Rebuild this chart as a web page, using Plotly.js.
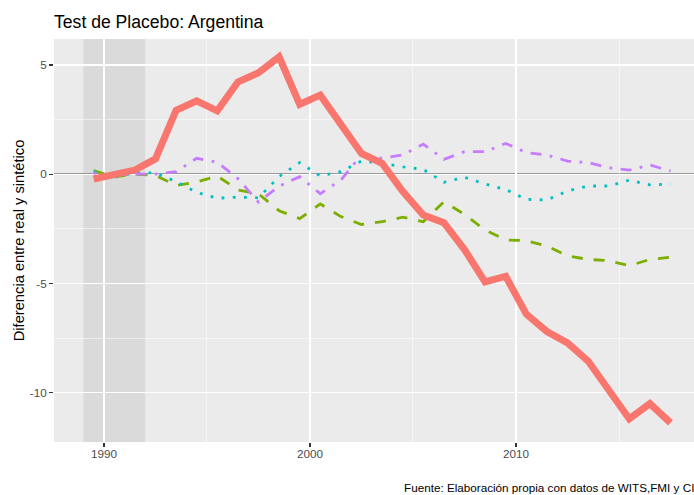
<!DOCTYPE html>
<html>
<head>
<meta charset="utf-8">
<script src="https://cdn.plot.ly/plotly-3.0.1.min.js"></script>
<style>html,body{margin:0;padding:0;background:#fff;}#chart{width:694px;height:495px;}</style>
</head>
<body>
<div id="chart"></div>
<script>
// Years (points sit mid-year on the axis)
const years = [1989.5, 1990.5, 1991.5, 1992.5, 1993.5, 1994.5, 1995.5, 1996.5, 1997.5, 1998.5,
               1999.5, 2000.5, 2001.5, 2002.5, 2003.5, 2004.5, 2005.5, 2006.5, 2007.5, 2008.5,
               2009.5, 2010.5, 2011.5, 2012.5, 2013.5, 2014.5, 2015.5, 2016.5, 2017.5];

const argentina = [-0.22, -0.05, 0.19, 0.70, 2.92, 3.36, 2.90, 4.22, 4.64, 5.37,
                   3.20, 3.62, 2.33, 0.95, 0.50, -0.78, -1.87, -2.22, -3.45, -4.93,
                   -4.67, -6.40, -7.20, -7.72, -8.55, -9.88, -11.20, -10.50, -11.38];

const placeboGreen = [0.17, -0.12, 0.00, -0.05, -0.52, -0.36, -0.08, -0.72, -0.90, -1.67,
                      -2.03, -1.36, -1.94, -2.30, -2.17, -1.97, -2.17, -1.26, -1.84, -2.55,
                      -3.01, -3.04, -3.29, -3.74, -3.90, -3.96, -4.19, -3.90, -3.80];

const placeboCyan = [0.12, -0.14, 0.06, 0.06, -0.34, -0.83, -1.10, -1.05, -1.08, -0.11,
                     0.53, -0.08, 0.12, 0.60, 0.50, 0.34, 0.22, -0.37, -0.14, -0.45,
                     -0.70, -1.15, -1.18, -0.77, -0.54, -0.54, -0.27, -0.49, -0.45];

const placeboPurple = [0.05, -0.03, 0.00, 0.00, 0.12, 0.73, 0.55, -0.20, -1.28, -0.55,
                       -0.11, -0.89, -0.27, 0.88, 0.73, 0.88, 1.38, 0.68, 1.03, 1.03,
                       1.41, 0.99, 0.88, 0.60, 0.53, 0.30, 0.19, 0.42, 0.15];

const shadeStart = 1989;
const shadeEnd = 1992;

const xTicks = [1990, 2000, 2010];
const xTickText = ["1990", "2000", "2010"];
const yTicks = [-10, -5, 0, 5];
const yTickText = ["-10", "-5", "0", "5"];

const titleText = "Test de Placebo: Argentina";
const yTitleText = "Diferencia entre real y sintético";
const captionText = "Fuente: Elaboración propia con datos de WITS,FMI y CI";

const FONT = "Liberation Sans, Arial, sans-serif";

const traces = [
  {x: years, y: placeboGreen, name: "Placebo 1", mode: "lines",
   line: {color: "#7CAE00", width: 2.8, dash: "11px,11px"}},
  {x: years, y: placeboCyan, name: "Placebo 2", mode: "lines",
   line: {color: "#00BFC4", width: 2.8, dash: "2.8px,8.4px"}},
  {x: years, y: placeboPurple, name: "Placebo 3", mode: "lines",
   line: {color: "#C77CFF", width: 2.8, dash: "2.8px,8.4px,11px,8.4px"}},
  {x: years, y: argentina, name: "Argentina", mode: "lines",
   line: {color: "#F8766D", width: 7}}
];

const layout = {
  width: 694, height: 495,
  margin: {l: 54, r: 0, t: 39, b: 53, pad: 0},
  paper_bgcolor: "#FFFFFF",
  plot_bgcolor: "#EBEBEB",
  showlegend: false,
  font: {family: FONT, color: "#000000"},
  title: {text: titleText, x: 0, xref: "paper", xanchor: "left",
          y: 1 - 22 / 495, yref: "container", yanchor: "middle",
          font: {family: FONT, size: 17.6, color: "#000000"}},
  xaxis: {
    range: [1987.575, 2018.64],
    tickmode: "array", tickvals: xTicks, ticktext: xTickText,
    ticks: "outside", ticklen: 4, tickwidth: 1.1, tickcolor: "#333333",
    ticklabelstandoff: -3,
    tickfont: {family: FONT, size: 11.7, color: "#4D4D4D"},
    showgrid: true, gridcolor: "#FFFFFF", gridwidth: 1.1,
    minor: {tickmode: "array", tickvals: [1985, 1995, 2005, 2015], showgrid: true,
            gridcolor: "#FFFFFF", gridwidth: 0.55, ticks: ""},
    zeroline: false, showline: false, fixedrange: true
  },
  yaxis: {
    range: [-12.256, 6.188],
    tickmode: "array", tickvals: yTicks, ticktext: yTickText,
    ticks: "outside", ticklen: 4, tickwidth: 1.1, tickcolor: "#333333",
    tickfont: {family: FONT, size: 11.7, color: "#4D4D4D"},
    showgrid: true, gridcolor: "#FFFFFF", gridwidth: 1.1,
    minor: {tickmode: "array", tickvals: [-12.5, -7.5, -2.5, 2.5], showgrid: true,
            gridcolor: "#FFFFFF", gridwidth: 0.55, ticks: ""},
    zeroline: false, showline: false, fixedrange: true,
    title: {text: yTitleText, standoff: 1, font: {family: FONT, size: 14.7, color: "#000000"}}
  },
  shapes: [
    {type: "rect", xref: "x", yref: "paper", x0: shadeStart, x1: shadeEnd, y0: 0, y1: 1,
     fillcolor: "rgba(128,128,128,0.16)", line: {width: 0}, layer: "between"},
    {type: "line", xref: "paper", yref: "y", x0: 0, x1: 1, y0: 0, y1: 0,
     line: {color: "#7F7F7F", width: 1.8}, layer: "between"}
  ],
  annotations: [
    {text: captionText, xref: "paper", yref: "paper", x: (402 - 54) / 640, y: -(487 - 442) / 403,
     xanchor: "left", yanchor: "middle", showarrow: false,
     font: {family: FONT, size: 11.7, color: "#000000"}}
  ]
};

Plotly.newPlot("chart", traces, layout, {displayModeBar: false, staticPlot: true});
</script>
</body>
</html>
